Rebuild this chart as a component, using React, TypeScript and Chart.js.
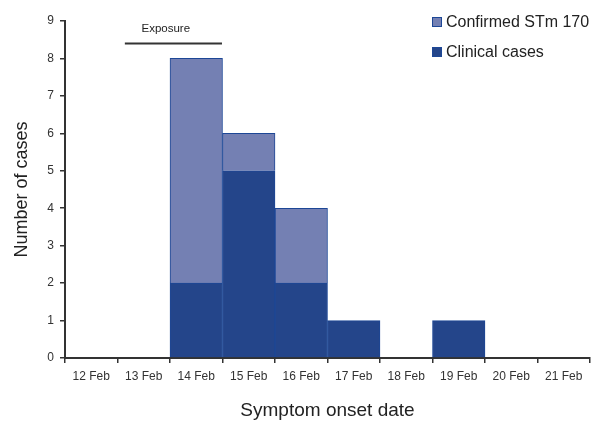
import React, { useEffect, useRef } from "react";
import { Chart, registerables } from "chart.js";

Chart.register(...registerables);

const categories = ["12 Feb", "13 Feb", "14 Feb", "15 Feb", "16 Feb", "17 Feb", "18 Feb", "19 Feb", "20 Feb", "21 Feb"];
const clinicalCases = [0, 0, 2, 5, 2, 1, 0, 1, 0, 0];
const confirmedSTm170 = [0, 0, 6, 1, 2, 0, 0, 0, 0, 0];
const yTicks = [0, 1, 2, 3, 4, 5, 6, 7, 8, 9];
const exposureLabel = "Exposure";
const exposureRange = [0.64, 2.49];
const exposureLevel = 8.4;
const exposureTextPos = [1.42, 8.8];

const FONT = "'Liberation Sans', Arial, sans-serif";
const LIGHT = "#7480B3";
const DARK = "#24458A";
const EDGE = "#1D4796";

const overlayPlugin = {
  id: "overlay",
  afterDraw(chart: any) {
    const ctx = chart.ctx;
    const xs = chart.scales.x;
    const ys = chart.scales.y;
    ctx.save();
    // exposure line
    ctx.strokeStyle = "#333";
    ctx.lineWidth = 2;
    ctx.beginPath();
    const yl = ys.getPixelForValue(exposureLevel);
    ctx.moveTo(xs.getPixelForValue(exposureRange[0]), yl);
    ctx.lineTo(xs.getPixelForValue(exposureRange[1]), yl);
    ctx.stroke();
    ctx.fillStyle = "#222";
    ctx.font = `11.5px ${FONT}`;
    ctx.textAlign = "center";
    ctx.textBaseline = "middle";
    ctx.fillText(exposureLabel, xs.getPixelForValue(exposureTextPos[0]), ys.getPixelForValue(exposureTextPos[1]));

    // legend (reverse order: top dataset first)
    const ds = chart.data.datasets.slice().reverse();
    const bx = 432;
    let cy = 22;
    ctx.font = `16px ${FONT}`;
    ctx.textAlign = "left";
    ds.forEach((d: any) => {
      ctx.fillStyle = d.backgroundColor;
      ctx.fillRect(bx, cy - 5, 10, 10);
      ctx.strokeStyle = EDGE;
      ctx.lineWidth = 1;
      ctx.strokeRect(bx + 0.5, cy - 4.5, 9, 9);
      ctx.fillStyle = "#222";
      ctx.fillText(d.label, bx + 14, cy + 1);
      cy += 30;
    });
    ctx.restore();
  },
};

export default function App() {
  const ref = useRef<HTMLCanvasElement | null>(null);
  useEffect(() => {
    document.body.style.margin = "0";
    const chart = new Chart(ref.current as HTMLCanvasElement, {
      type: "bar",
      data: {
        labels: categories,
        datasets: [
          {
            label: "Clinical cases",
            data: clinicalCases,
            backgroundColor: DARK,
            borderColor: EDGE,
            borderWidth: 1,
            barPercentage: 1,
            categoryPercentage: 1,
          },
          {
            label: "Confirmed STm 170",
            data: confirmedSTm170,
            backgroundColor: LIGHT,
            borderColor: EDGE,
            borderWidth: 1,
            barPercentage: 1,
            categoryPercentage: 1,
          },
        ],
      },
      options: {
        responsive: false,
        animation: false,
        devicePixelRatio: 1,
        layout: { padding: { top: 21, right: 9, left: 0, bottom: 0 } },
        plugins: {
          legend: { display: false },
          tooltip: { enabled: false },
        },
        scales: {
          x: {
            stacked: true,
            offset: true,
            grid: { display: true, drawOnChartArea: false, drawTicks: true, tickLength: 5, offset: true, color: "#333", lineWidth: 1.5 },
            border: { display: true, color: "#333", width: 2 },
            ticks: { color: "#333", font: { family: FONT, size: 12 }, padding: 6, maxRotation: 0, autoSkip: false },
            title: {
              display: true,
              text: "Symptom onset date",
              color: "#222",
              font: { family: FONT, size: 19, lineHeight: 1 },
              padding: { top: 0, bottom: 1 },
            },
            afterFit: (s: any) => {
              s.height = 63;
            },
          },
          y: {
            stacked: true,
            min: 0,
            max: 9,
            afterBuildTicks: (s: any) => {
              s.ticks = yTicks.map((v) => ({ value: v }));
            },
            grid: { display: true, drawOnChartArea: false, drawTicks: true, tickLength: 5, color: "#333", lineWidth: 1.5 },
            border: { display: true, color: "#333", width: 2 },
            ticks: { color: "#333", font: { family: FONT, size: 12 }, padding: 6 },
            title: {
              display: true,
              text: "Number of cases",
              color: "#222",
              font: { family: FONT, size: 18, lineHeight: 1 },
              padding: { top: 13, bottom: 0 },
            },
            afterFit: (s: any) => {
              s.width = 65;
            },
          },
        },
      },
      plugins: [overlayPlugin],
    });
    return () => chart.destroy();
  }, []);
  return (
    <div style={{ width: 599, height: 421, background: "#fff" }}>
      <canvas ref={ref} width={599} height={421} />
    </div>
  );
}
